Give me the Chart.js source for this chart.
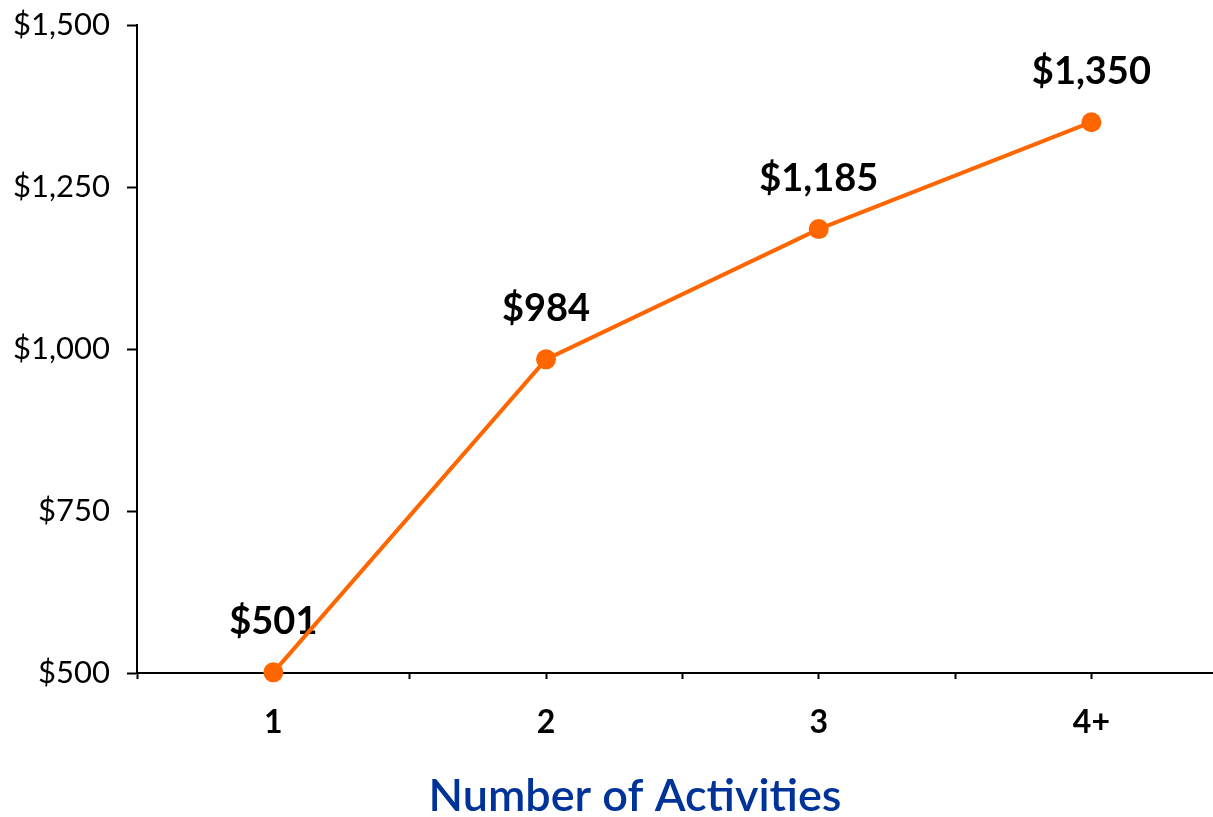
<!DOCTYPE html>
<html>
<head>
<meta charset="utf-8">
<script src="https://cdn.jsdelivr.net/npm/chart.js@4"></script>
<style>
  html, body { margin: 0; padding: 0; background: #fff; }
  #wrap { width: 1213px; height: 817px; }
</style>
</head>
<body>
<div id="wrap"><canvas id="myChart" width="1213" height="817"></canvas></div>
<script>
// Données du graphique
const categories = ['1', '2', '3', '4+'];
const positions = [1, 2, 3, 4];
const spending = [501, 984, 1185, 1350];
const yTicks = [500, 750, 1000, 1250, 1500];
const xTitle = 'Number of Activities';

const fontFamily = 'Lato, "Open Sans", sans-serif';

function money(v) {
    return '$' + v.toLocaleString('en-US');
}

// Étiquettes au-dessus des points (dessinées avant la ligne) et titre de l'axe
const valueLabels = {
    id: 'valueLabels',
    beforeDatasetsDraw(chart) {
        const ctx = chart.ctx;
        const meta = chart.getDatasetMeta(0);
        ctx.save();
        ctx.fillStyle = '#000';
        ctx.font = 'bold 38px ' + fontFamily;
        ctx.textAlign = 'center';
        ctx.textBaseline = 'alphabetic';
        meta.data.forEach((pt, i) => {
            ctx.fillText(money(spending[i]), pt.x, pt.y - 38);
        });
        // Titre de l'axe horizontal
        ctx.fillStyle = '#003399';
        ctx.font = '600 45px ' + fontFamily;
        ctx.fillText(xTitle, 635, 811);
        ctx.restore();
    }
};

let ctx = document.getElementById('myChart').getContext('2d');
let myChart = new Chart(ctx, {
    type: 'line',
    data: {
        datasets: [{
            data: positions.map((x, i) => ({ x: x, y: spending[i] })),
            borderColor: '#FF6600',
            backgroundColor: '#FF6600',
            borderWidth: 4,
            pointRadius: 10,
            pointBorderWidth: 0,
            pointBackgroundColor: '#FF6600',
            tension: 0,
            clip: false
        }]
    },
    options: {
        responsive: false,
        animation: false,
        layout: { autoPadding: false, padding: { top: 25, right: 0, left: 0, bottom: 0 } },
        plugins: {
            legend: { display: false },
            tooltip: { enabled: false }
        },
        scales: {
            x: {
                type: 'linear',
                min: 0.5,
                max: 4.446,
                afterBuildTicks(scale) {
                    scale.ticks = [];
                    for (let v = 0.5; v <= 4.0001; v += 0.5) scale.ticks.push({ value: v });
                },
                afterFit(scale) {
                    scale.height = 144;
                    scale.paddingLeft = 0;
                    scale.paddingRight = 0;
                },
                border: { display: true, color: '#000', width: 2 },
                grid: {
                    drawOnChartArea: false,
                    drawTicks: true,
                    tickLength: 6,
                    tickColor: '#000',
                    tickWidth: 2
                },
                ticks: {
                    autoSkip: false,
                    maxRotation: 0,
                    padding: 24,
                    color: '#000',
                    font: { family: fontFamily, size: 32, weight: 'bold' },
                    callback(v) {
                        const i = positions.indexOf(v);
                        return i >= 0 ? categories[i] : '';
                    }
                }
            },
            y: {
                min: 500,
                max: 1500,
                afterBuildTicks(scale) {
                    scale.ticks = yTicks.map(v => ({ value: v }));
                },
                afterFit(scale) {
                    scale.width = 137;
                    scale.paddingTop = 0;
                    scale.paddingBottom = 0;
                },
                border: { display: true, color: '#000', width: 2 },
                grid: {
                    drawOnChartArea: false,
                    drawTicks: true,
                    tickLength: 10,
                    tickColor: '#000',
                    tickWidth: 2
                },
                ticks: {
                    padding: 17,
                    color: '#000',
                    font: { family: fontFamily, size: 31 },
                    callback(v) { return money(v); }
                }
            }
        }
    },
    plugins: [valueLabels]
});
</script>
</body>
</html>
